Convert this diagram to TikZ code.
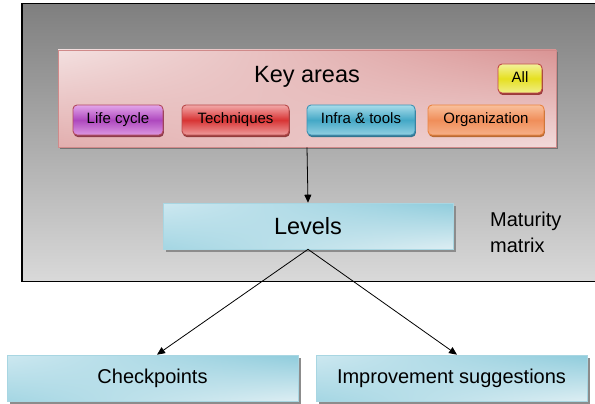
\documentclass[tikz,border=0pt]{standalone}
\usepackage{fontspec}
\setmainfont{Liberation Sans}
\usetikzlibrary{arrows.meta,shadings,shadows,calc}

\definecolor{frameTop}{HTML}{7F7F7F}
\definecolor{frameBot}{HTML}{D9D9D9}
\definecolor{pinkA}{HTML}{F3E0E0}
\definecolor{pinkB}{HTML}{D99494}
\definecolor{pinkC}{HTML}{E2AEAE}
\definecolor{pinkD}{HTML}{F2DADA}
\definecolor{pinkLine}{HTML}{D08A8A}
\definecolor{cyanA}{HTML}{CDE8F0}
\definecolor{cyanB}{HTML}{8FCCDC}
\definecolor{cyanC}{HTML}{A4D6E3}
\definecolor{cyanD}{HTML}{DDEEF3}
\definecolor{cyanLine}{HTML}{A8D6E2}
% button colours: top / middle / bottom / rim
\definecolor{lifeT}{HTML}{E3A6EA}\definecolor{lifeM}{HTML}{AE48BE}\definecolor{lifeB}{HTML}{DC98E2}\definecolor{lifeR}{HTML}{B24A5E}
\definecolor{techT}{HTML}{F2A8A8}\definecolor{techM}{HTML}{D83434}\definecolor{techB}{HTML}{EE9C9C}\definecolor{techR}{HTML}{B84A4A}
\definecolor{infraT}{HTML}{A8DCEA}\definecolor{infraM}{HTML}{44A8C6}\definecolor{infraB}{HTML}{92D0E2}\definecolor{infraR}{HTML}{3F92B4}
\definecolor{orgT}{HTML}{F9C09C}\definecolor{orgM}{HTML}{F08E5A}\definecolor{orgB}{HTML}{F6B088}\definecolor{orgR}{HTML}{E98440}
\definecolor{allT}{HTML}{F2F29A}\definecolor{allM}{HTML}{E6E020}\definecolor{allB}{HTML}{F0EE8A}\definecolor{allR}{HTML}{C04848}

\tikzset{
  panel/.style={draw=pinkLine, line width=0.8pt, shading=bilinear interpolation,
    upper left=pinkA, upper right=pinkB, lower left=pinkC, lower right=pinkD,
    drop shadow={shadow xshift=2pt, shadow yshift=-2pt, fill=black!55, opacity=1}},
  tealbox/.style={draw=cyanLine, line width=0.6pt, inner sep=0pt, shading=bilinear interpolation,
    upper left=cyanA, upper right=cyanB, lower left=cyanC, lower right=cyanD,
    drop shadow={shadow xshift=2.5pt, shadow yshift=-2.5pt, fill=black!45, opacity=1},
    font=\fontsize{20}{24}\selectfont},
  button/.style={draw=#1R, line width=0.9pt, rounded corners=4pt, inner sep=0pt,
    top color=#1T, bottom color=#1B, middle color=#1M,
    drop shadow={shadow xshift=0.8pt, shadow yshift=-2pt, fill=#1R!80!black, opacity=1},
    font=\fontsize{15}{18}\selectfont, text=black, text height=10.8pt, text depth=3.2pt},
  link/.style={line width=0.8pt, -{Triangle[length=8pt,width=7pt]}},
}

\begin{document}
\begin{tikzpicture}[x=1pt,y=-1pt]
\useasboundingbox (0,0) rectangle (595,404);
\clip (0,0) rectangle (595,404);

% grey frame of the maturity matrix
\path[draw=black, line width=1.2pt, top color=frameTop, bottom color=frameBot]
  (22,3.5) rectangle (604,281.5);

% key areas panel
\node[panel, minimum width=498pt, minimum height=97pt, inner sep=0pt] (keys) at (307,98.5) {};
\node[font=\fontsize{23.5}{28}\selectfont, anchor=base] (keytitle) at (307,83) {Key areas};

% area buttons
\node[button=life, minimum width=90pt, minimum height=30pt] (life) at (118,120) {Life cycle};
\node[button=tech, minimum width=107pt, minimum height=30pt] (tech) at (235.5,120) {Techniques};
\node[button=infra, minimum width=108pt, minimum height=30pt] (infra) at (361,120) {Infra \& tools};
\node[button=org, minimum width=116pt, minimum height=30pt] (org) at (486,120) {Organization};
\node[button=all, minimum width=44pt, minimum height=29pt] (all) at (520,78.5) {All};

% levels and outcomes
\node[tealbox, minimum width=290pt, minimum height=46pt, font=\fontsize{23.5}{28}\selectfont]
  (levels) at (308,226) {Levels};
\node[tealbox, minimum width=291pt, minimum height=46pt] (check) at (152.5,378) {Checkpoints};
\node[tealbox, minimum width=271pt, minimum height=46pt] (improve) at (451.5,378) {Improvement suggestions};

\node[anchor=north west, align=left, inner sep=0pt, font=\fontsize{20}{26}\selectfont]
  (matrix) at (490,212) {Maturity\\matrix};

% connectors
\draw[link] (keys.south) -- (levels.north);
\draw[link] (levels.south) -- ([xshift=4.5pt]check.north);
\draw[link] (levels.south) -- ([xshift=5.5pt]improve.north);
\end{tikzpicture}
\end{document}
